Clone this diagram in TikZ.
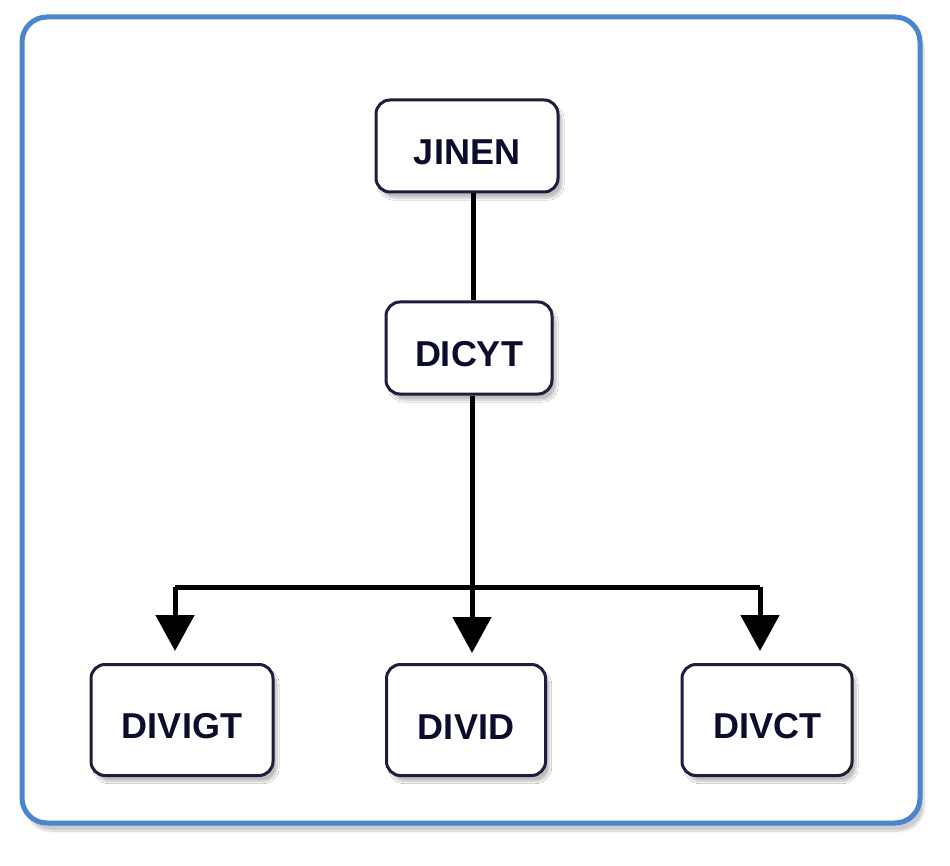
\documentclass[tikz,border=0pt]{standalone}
\usepackage{fontspec}
\setmainfont{Liberation Sans}
\usetikzlibrary{arrows.meta,shadows.blur}
\definecolor{frameblue}{HTML}{4A86CC}
\definecolor{boxline}{HTML}{1E1E3C}
\definecolor{txt}{HTML}{0C0C2C}
\newcommand{\lowtxt}[1]{\rule{0pt}{38pt}#1}
\tikzset{
  boxnode/.style={draw=boxline, line width=3pt, fill=white, rounded corners=14pt,
    font=\fontsize{36}{40}\selectfont\bfseries, text=txt,
    blur shadow={shadow blur steps=8, shadow xshift=4pt, shadow yshift=-6pt, shadow opacity=25}},
  conn/.style={line width=5pt, draw=black},
  arr/.style={conn, -{Triangle[width=38pt, length=36pt]}}
}
\begin{document}
\begin{tikzpicture}[x=1pt, y=-1pt]
\useasboundingbox (0,0) rectangle (950,866);
\draw[line width=5pt, draw=frameblue, fill=white, rounded corners=25pt,
  blur shadow={shadow blur steps=10, shadow xshift=4pt, shadow yshift=-8pt, shadow opacity=20}]
  (22,17) rectangle (920,823);
\node[boxnode, minimum width=182pt, minimum height=92pt] (jinen) at (467,146) {\lowtxt{JINEN}};
\node[boxnode, minimum width=166pt, minimum height=92pt] (dicyt) at (469,348) {\lowtxt{DICYT}};
\node[boxnode, minimum width=182pt, minimum height=111pt] (divigt) at (182,720) {\lowtxt{DIVIGT}};
\node[boxnode, minimum width=159pt, minimum height=111pt] (divid) at (466,720) {\lowtxt{DIVID}};
\node[boxnode, minimum width=170pt, minimum height=111pt] (divct) at (767,720) {\lowtxt{DIVCT}};
\coordinate (bl) at (175,587);
\coordinate (br) at (760,587);
\draw[conn] ([xshift=4pt]dicyt.north) -- ([xshift=4pt]dicyt.north |- jinen.south);
\draw[conn] (br) -- (bl);
\draw[arr, shorten >=10pt] ([xshift=3pt]dicyt.south) -- ([xshift=3pt]dicyt.south |- divid.north);
\draw[arr, shorten >=12pt] (bl) -- (bl |- divigt.north);
\draw[arr, shorten >=12pt] (br) -- (br |- divct.north);
\end{tikzpicture}
\end{document}
